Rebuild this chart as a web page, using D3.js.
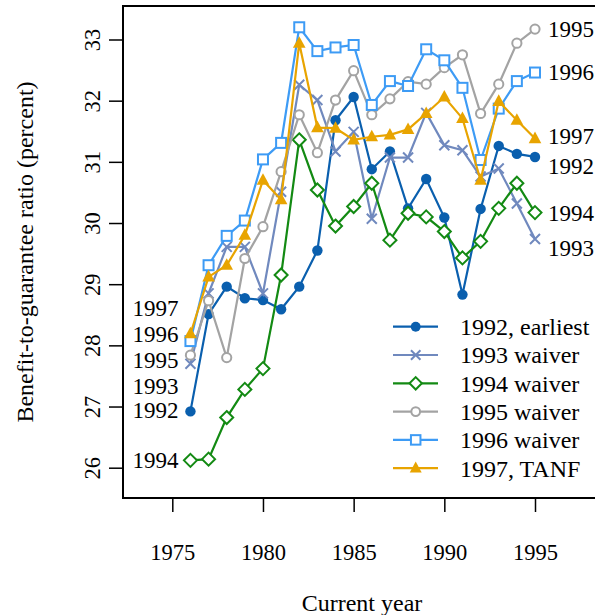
<!DOCTYPE html>
<html><head><meta charset="utf-8">
<script src="https://cdn.jsdelivr.net/npm/d3@7"></script>
<style>
body{margin:0;background:#fff}
svg text, text, .serif{font-family:"Liberation Serif","Times New Roman",Times,serif !important;}
</style>
</head><body><svg id="c" width="595" height="615" font-family="Liberation Serif"></svg>
<script>
const years = d3.range(1976, 1996);
const s1992 = [26.92,28.51,28.96,28.77,28.74,28.59,28.96,29.55,31.68,32.06,30.88,31.17,30.24,30.72,30.09,28.83,30.23,31.26,31.13,31.08];
const s1993 = [27.70,28.85,29.61,29.61,28.85,30.51,32.26,32.01,31.17,31.49,30.07,31.07,31.07,31.80,31.27,31.19,30.76,30.89,30.32,29.74];
const s1994 = [26.12,26.14,26.82,27.28,27.62,29.15,31.36,30.54,29.95,30.27,30.65,29.72,30.16,30.10,29.86,29.43,29.70,30.24,30.65,30.17];
const s1995 = [27.84,28.73,27.80,29.42,29.94,30.84,31.77,31.15,32.01,32.49,31.77,32.03,32.31,32.27,32.54,32.75,31.79,32.27,32.94,33.17];
const s1996 = [28.07,29.31,29.79,30.04,31.04,31.31,33.20,32.81,32.87,32.91,31.93,32.32,32.24,32.84,32.66,32.21,31.03,31.87,32.32,32.46];
const s1997 = [28.19,29.12,29.31,29.80,30.70,30.38,32.94,31.56,31.55,31.36,31.41,31.44,31.53,31.79,32.06,31.71,30.70,31.99,31.68,31.38];
const seriesNames = ["1992, earliest","1993 waiver","1994 waiver","1995 waiver","1996 waiver","1997, TANF"];
const seriesShort = ["1992","1993","1994","1995","1996","1997"];
const seriesValues = [s1992,s1993,s1994,s1995,s1996,s1997];
const xTicks = [1975,1980,1985,1990,1995];
const yTicks = [26,27,28,29,30,31,32,33];

const colors = ["#0a5fae","#7089be","#138a13","#a3a3a3","#3d9bf5","#e8a400"];
const shapes = ["dot","x","diamond","circle","square","triangle"];
// label placement (data units) at left / right ends
const leftLab = [26.94,27.34,26.12,27.76,28.18,28.61];
const rightLab = [30.93,29.60,30.16,33.17,32.47,31.42];

const svg = d3.select("#c");
const x = d3.scaleLinear().domain([1975,1995]).range([172.3,535]);
const y = d3.scaleLinear().domain([26,33]).range([467.7,39.5]);
const L=123, T=6, B=498, R=700;

function txt(sel, size){
  return sel.attr("class","serif").attr("font-family","Liberation Serif")
    .style("font-family",'"Liberation Serif"').style("font-size", size+"px").attr("fill","#000");
}

// axes
const xa = svg.append("g").attr("transform",`translate(0,${B})`)
  .call(d3.axisBottom(x).tickValues(xTicks).tickFormat(d3.format("d")).tickSize(14).tickSizeOuter(0));
xa.attr("font-family","Liberation Serif").attr("font-size",null);
xa.select(".domain").remove();
xa.selectAll("line").attr("stroke","#000").attr("stroke-width",1.5);
txt(xa.selectAll("text").attr("y",54).attr("dy","0.35em"), 22.5);

const ya = svg.append("g").attr("transform",`translate(${L},0)`)
  .call(d3.axisLeft(y).tickValues(yTicks).tickFormat(d3.format("d")).tickSize(14).tickSizeOuter(0));
ya.attr("font-family","Liberation Serif").attr("font-size",null);
ya.select(".domain").remove();
ya.selectAll("line").attr("stroke","#000").attr("stroke-width",1.5);
txt(ya.selectAll("text").attr("x",0).attr("y",0).attr("dy","0.35em").attr("text-anchor","middle")
  .attr("transform","translate(-31,0) rotate(-90)"), 22.5);

// box
svg.append("path").attr("d",`M${R},${T}H${L}V${B}H${R}`).attr("fill","none").attr("stroke","#000").attr("stroke-width",2);

txt(svg.append("text").attr("x",362).attr("y",603).attr("dy","0.35em").attr("text-anchor","middle"),24).text("Current year");
txt(svg.append("text").attr("transform",`translate(25,${(T+B)/2}) rotate(-90)`).attr("dy","0.35em").attr("text-anchor","middle"),24).text("Benefit-to-guarantee ratio (percent)");

function marker(g, shape, color, cx, cy, s){
  if(shape==="dot") g.append("circle").attr("cx",cx).attr("cy",cy).attr("r",5.2*s).attr("fill",color);
  else if(shape==="circle") g.append("circle").attr("cx",cx).attr("cy",cy).attr("r",4.6*s).attr("fill","#fff").attr("stroke",color).attr("stroke-width",2);
  else if(shape==="square") g.append("rect").attr("x",cx-5*s).attr("y",cy-5*s).attr("width",10*s).attr("height",10*s).attr("fill","#fff").attr("stroke",color).attr("stroke-width",2);
  else if(shape==="diamond") g.append("path").attr("d",`M${cx},${cy-6.5*s}L${cx+6.5*s},${cy}L${cx},${cy+6.5*s}L${cx-6.5*s},${cy}Z`).attr("fill","#fff").attr("stroke",color).attr("stroke-width",2);
  else if(shape==="triangle") g.append("path").attr("d",`M${cx},${cy-7*s}L${cx+6.3*s},${cy+4.6*s}L${cx-6.3*s},${cy+4.6*s}Z`).attr("fill",color);
  else if(shape==="x") g.append("path").attr("d",`M${cx-5*s},${cy-5*s}L${cx+5*s},${cy+5*s}M${cx-5*s},${cy+5*s}L${cx+5*s},${cy-5*s}`).attr("stroke",color).attr("stroke-width",2);
}

const line = d3.line().x((d,i)=>x(years[i])).y(d=>y(d));
seriesValues.forEach((vals,k)=>{
  const g = svg.append("g");
  g.append("path").datum(vals).attr("d",line).attr("fill","none").attr("stroke",colors[k]).attr("stroke-width",2.2);
  vals.forEach((v,i)=>marker(g,shapes[k],colors[k],x(years[i]),y(v),1));
});
seriesShort.forEach((n,k)=>{
  txt(svg.append("text").attr("x",x(1976)-12).attr("y",y(leftLab[k])).attr("dy","0.35em").attr("text-anchor","end"),23).text(n);
  txt(svg.append("text").attr("x",x(1995)+13).attr("y",y(rightLab[k])).attr("dy","0.35em"),23).text(n);
});

// legend
const lg = svg.append("g");
seriesNames.forEach((n,k)=>{
  const yy = 326.7 + k*28.3;
  lg.append("line").attr("x1",393).attr("x2",438).attr("y1",yy).attr("y2",yy).attr("stroke",colors[k]).attr("stroke-width",2.2);
  marker(lg,shapes[k],colors[k],415.7,yy,0.95);
  txt(lg.append("text").attr("x",460).attr("y",yy).attr("dy","0.35em"),24).text(n);
});
</script></body></html>
